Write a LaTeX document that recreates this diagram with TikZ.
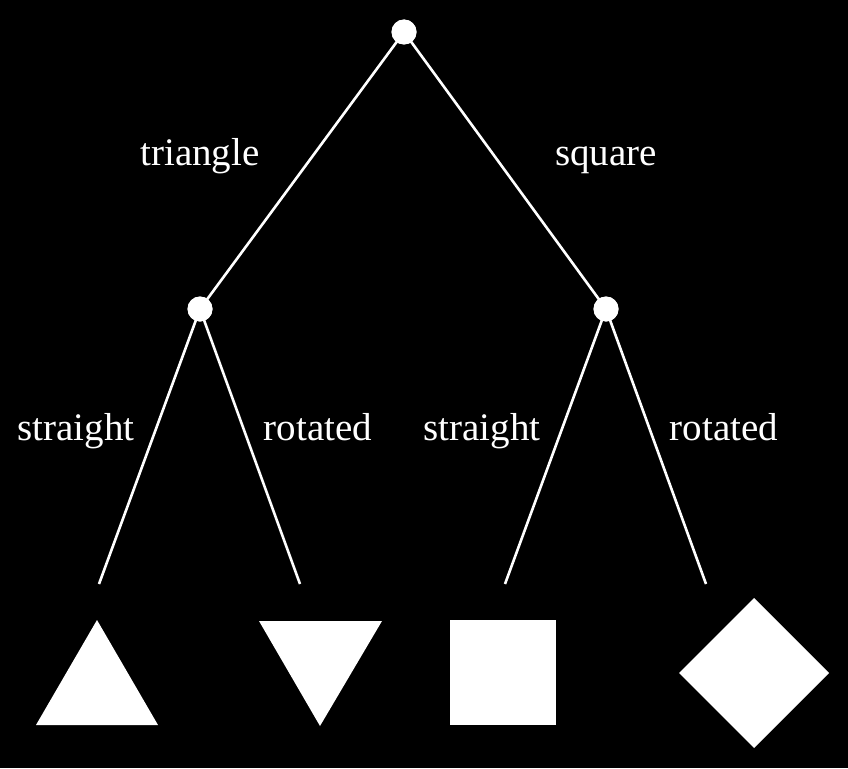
\documentclass[tikz,border=0pt]{standalone}
\usepackage{fontspec}
\setmainfont{Liberation Serif}
\begin{document}
\begin{tikzpicture}[x=1pt,y=-1pt,
  dot/.style={circle,fill=white,inner sep=0pt,minimum size=25pt},
  edge/.style={draw=white,line width=2.6pt},
  lbl/.style={text=white,font=\fontsize{39}{44}\selectfont,inner sep=0pt,anchor=base},
  shp/.style={fill=white,draw=none}]
\fill[black] (0,0) rectangle (848,768);
\useasboundingbox (0,0) rectangle (848,768);
\node[dot] (root) at (404,32) {};
\node[dot] (tri) at (200,309) {};
\node[dot] (sq) at (606,309) {};
\coordinate (l1) at (99,584);
\coordinate (l2) at (300,584);
\coordinate (l3) at (505,584);
\coordinate (l4) at (706,584);
\draw[edge] (root.center) -- (tri.center);
\draw[edge] (root.center) -- (sq.center);
\draw[edge] (tri.center) -- (l1);
\draw[edge] (tri.center) -- (l2);
\draw[edge] (sq.center) -- (l3);
\draw[edge] (sq.center) -- (l4);
\node[dot] at (root) {};
\node[dot] at (tri) {};
\node[dot] at (sq) {};
\node[lbl] (t1) at (200,165) {triangle};
\node[lbl] (t2) at (606,165) {square};
\node[lbl] (t3) at (76,440) {straight};
\node[lbl] (t4) at (318,440) {rotated};
\node[lbl] (t5) at (482,440) {straight};
\node[lbl] (t6) at (724,440) {rotated};
\fill[shp] (97,620) -- (158,725) -- (36,725) -- cycle;
\fill[shp] (259,621) -- (382,621) -- (320,726) -- cycle;
\fill[shp] (450,620) rectangle (556,725);
\fill[shp] (754,598) -- (829,673) -- (754,748) -- (679,673) -- cycle;
\end{tikzpicture}
\end{document}
